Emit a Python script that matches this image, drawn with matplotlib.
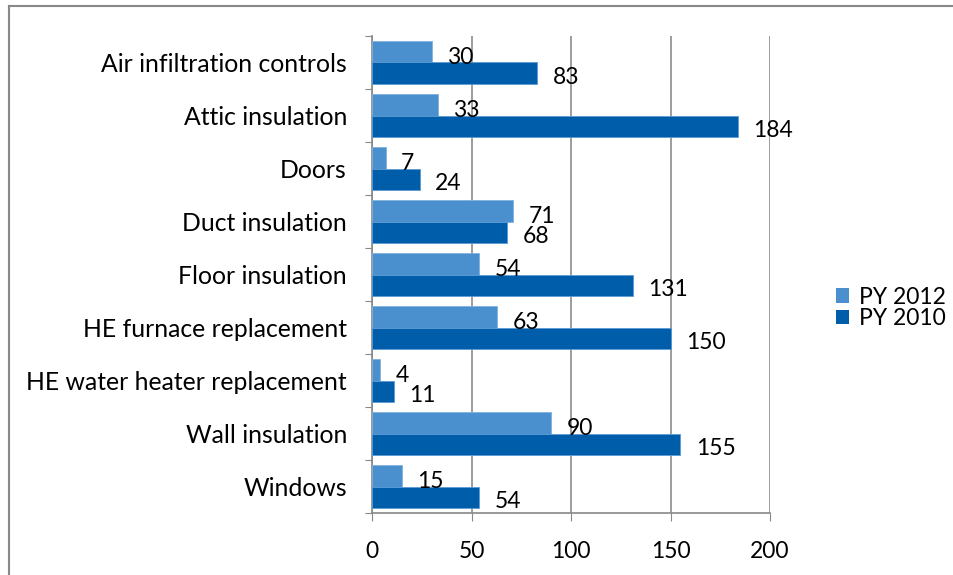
import matplotlib
matplotlib.use("Agg")
import matplotlib.pyplot as plt
from matplotlib.patches import Patch
from matplotlib.lines import Line2D
import numpy as np

categories = ["Air infiltration controls", "Attic insulation", "Doors", "Duct insulation",
              "Floor insulation", "HE furnace replacement", "HE water heater replacement",
              "Wall insulation", "Windows"]
py2012 = [30, 33, 7, 71, 54, 63, 4, 90, 15]
py2010 = [83, 184, 24, 68, 131, 150, 11, 155, 54]
series_names = ["PY 2012", "PY 2010"]
xticks = [0, 50, 100, 150, 200]

light = "#4A90CE"
dark = "#005DAA"
FONT = "Lato"
FS = 16.5
FS_CAT = 17.8

fig = plt.figure(figsize=(9.54, 5.75), dpi=100)
ax = fig.add_axes([372/954, 1-513/575, (770-372)/954, (513-36)/575])

n = len(categories)
centers = np.arange(n)[::-1] + 0.5  # top category highest
h = 0.4
ax.barh(centers + h/2, py2012, height=h, color=light, edgecolor="#7FB2DE", linewidth=0.6, zorder=3)
ax.barh(centers - h/2, py2010, height=h, color=dark, edgecolor="#5B9BD5", linewidth=0.6, zorder=3)

for c, v in zip(centers, py2012):
    ax.annotate(str(v), (v, c + h/2), xytext=(11, -4), textcoords="offset points",
                ha="left", va="center", fontsize=FS, family=FONT, color="black")
for c, v in zip(centers, py2010):
    ax.annotate(str(v), (v, c - h/2), xytext=(11, -3), textcoords="offset points",
                ha="left", va="center", fontsize=FS, family=FONT, color="black")

ax.set_xlim(0, 200)
ax.set_ylim(0, n)
ax.set_xticks(xticks)
ax.set_xticklabels([str(t) for t in xticks], fontsize=FS, family=FONT)
ax.set_yticks(np.arange(n + 1))
ax.set_yticklabels([])
ax.set_yticks(centers, minor=True)
ax.set_yticklabels(categories, minor=True, fontsize=FS_CAT, family=FONT)
ax.tick_params(axis="y", which="minor", length=0, pad=18)
ax.tick_params(axis="y", which="major", length=5, color="#888888", direction="out")
ax.tick_params(axis="x", length=6, color="#888888", direction="out", pad=14)

ax.grid(axis="x", color="#8C8C8C", linewidth=1.2, zorder=0)
for s in ["top", "right"]:
    ax.spines[s].set_visible(False)
ax.spines["left"].set_color("#888888")
ax.spines["bottom"].set_color("#888888")
ax.spines["left"].set_linewidth(1.2)
ax.spines["bottom"].set_linewidth(1.2)

handles = [Patch(facecolor=light), Patch(facecolor=dark)]
fig.legend(handles, series_names, loc="center left", bbox_to_anchor=(815/954, 1-308/575),
           frameon=False, prop={"family": FONT, "size": FS}, handlelength=0.6, handleheight=0.6,
           handletextpad=0.4, labelspacing=0.02)

# outer border (top and left only visible)
fig.add_artist(Line2D([9/954, 1], [1-6/575, 1-6/575], transform=fig.transFigure, color="#888888", linewidth=1.5))
fig.add_artist(Line2D([9/954, 9/954], [0, 1-6/575], transform=fig.transFigure, color="#888888", linewidth=1.5))

fig.savefig("out.png", dpi=100)
